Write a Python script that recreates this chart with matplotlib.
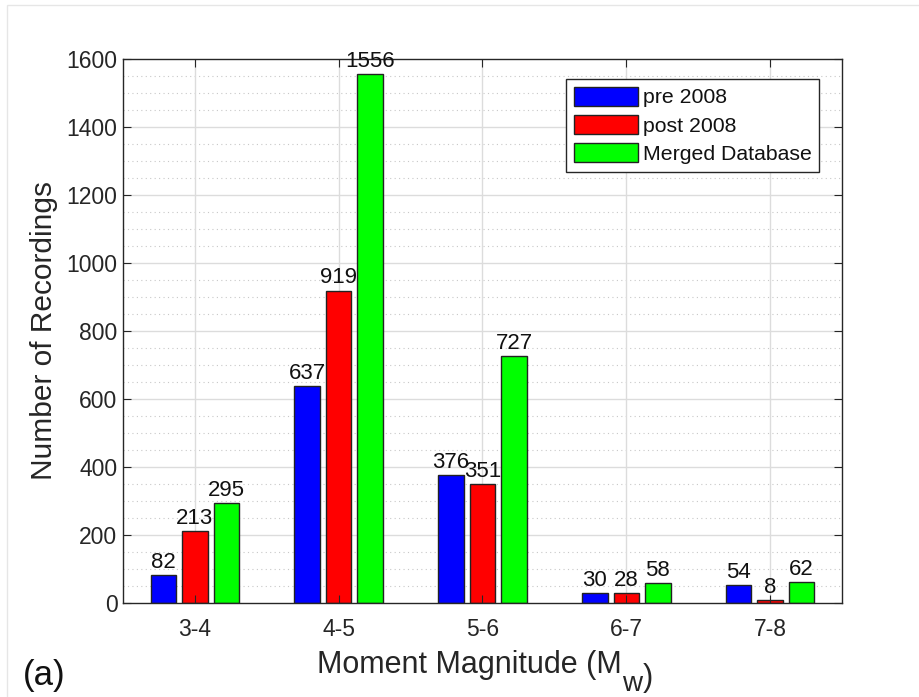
import numpy as np
import matplotlib
matplotlib.use("Agg")
import matplotlib.pyplot as plt
from matplotlib.ticker import MultipleLocator
from matplotlib.patches import Rectangle

plt.rcParams['font.family'] = ['Liberation Sans', 'DejaVu Sans']

bins = ['3-4', '4-5', '5-6', '6-7', '7-8']
pre_2008 = [82, 637, 376, 30, 54]
post_2008 = [213, 919, 351, 28, 8]
merged = [295, 1556, 727, 58, 62]

series = [('pre 2008', pre_2008, '#0000ff'),
          ('post 2008', post_2008, '#ff0000'),
          ('Merged Database', merged, '#00ff00')]

fig = plt.figure(figsize=(9.19, 6.97), dpi=100)
# thin light frame round the figure
fig.patches.append(Rectangle((0.008, -0.01), 1.0, 1.003, transform=fig.transFigure,
                             fill=False, edgecolor='#e6e6e6', linewidth=1.0))
ax = fig.add_axes([0.1338, 0.1349, 0.7824, 0.7805])

x = np.arange(1, len(bins) + 1)
offsets = [-0.219, 0.0, 0.219]
width = 0.177
txt = '#262626'

for (name, vals, col), off in zip(series, offsets):
    bars = ax.bar(x + off, vals, width, color=col, edgecolor='#222222',
                  linewidth=1.0, label=name, zorder=2)
    for b, v in zip(bars, vals):
        ax.text(b.get_x() + b.get_width() / 2, v + 6, str(v),
                ha='center', va='bottom', fontsize=16, color='#111111', zorder=4)

ax.set_xlim(0.5, 5.5)
ax.set_ylim(0, 1600)
ax.set_xticks(x)
ax.set_xticklabels(bins)
ax.yaxis.set_major_locator(MultipleLocator(200))

# grid drawn by hand so it stays under the bars while tick marks sit on top
for yv in np.arange(50, 1600, 50):
    if yv % 200 == 0:
        ax.axhline(yv, color='#dcdcdc', linewidth=1.0, zorder=0.5)
    else:
        ax.axhline(yv, color='#c8c8c8', linestyle=(0, (1, 3)), linewidth=0.8, zorder=0.5)
for xv in x:
    ax.axvline(xv, color='#dcdcdc', linewidth=1.0, zorder=0.5)
ax.set_axisbelow(False)

ax.tick_params(which='major', direction='in', length=6, top=True, right=True,
               labelsize=16.5, colors='#262626')
ax.tick_params(axis='x', pad=11)
ax.tick_params(axis='y', pad=4)
for s in ax.spines.values():
    s.set_color('#262626')
    s.set_linewidth(1.0)

ax.set_ylabel('Number of Recordings', fontsize=21.5, color=txt, labelpad=6)

# x label with a lowered "w"
xl = fig.text(0.345, 0.035, 'Moment Magnitude (M', fontsize=22, color=txt,
              va='baseline', ha='left')
wl = ax.annotate('w', xy=(1, 0), xycoords=xl, xytext=(0.5, -8.5),
                 textcoords='offset points', fontsize=20, color=txt,
                 va='baseline', ha='left')
ax.annotate(')', xy=(1, 0), xycoords=wl, xytext=(0, 8.5),
            textcoords='offset points', fontsize=22, color=txt,
            va='baseline', ha='left')

leg = ax.legend(loc='upper right', bbox_to_anchor=(0.968, 0.963), fontsize=15.3,
                handlelength=3.05, handleheight=1.0, handletextpad=0.2,
                labelspacing=0.36, borderpad=0.35, borderaxespad=0,
                fancybox=False, framealpha=1, edgecolor='#262626')
leg.get_frame().set_linewidth(1.0)
for t in leg.get_texts():
    t.set_color('#111111')

fig.text(0.025, 0.017, '(a)', fontsize=25, color='#111111')

fig.savefig('out.png', dpi=100)
